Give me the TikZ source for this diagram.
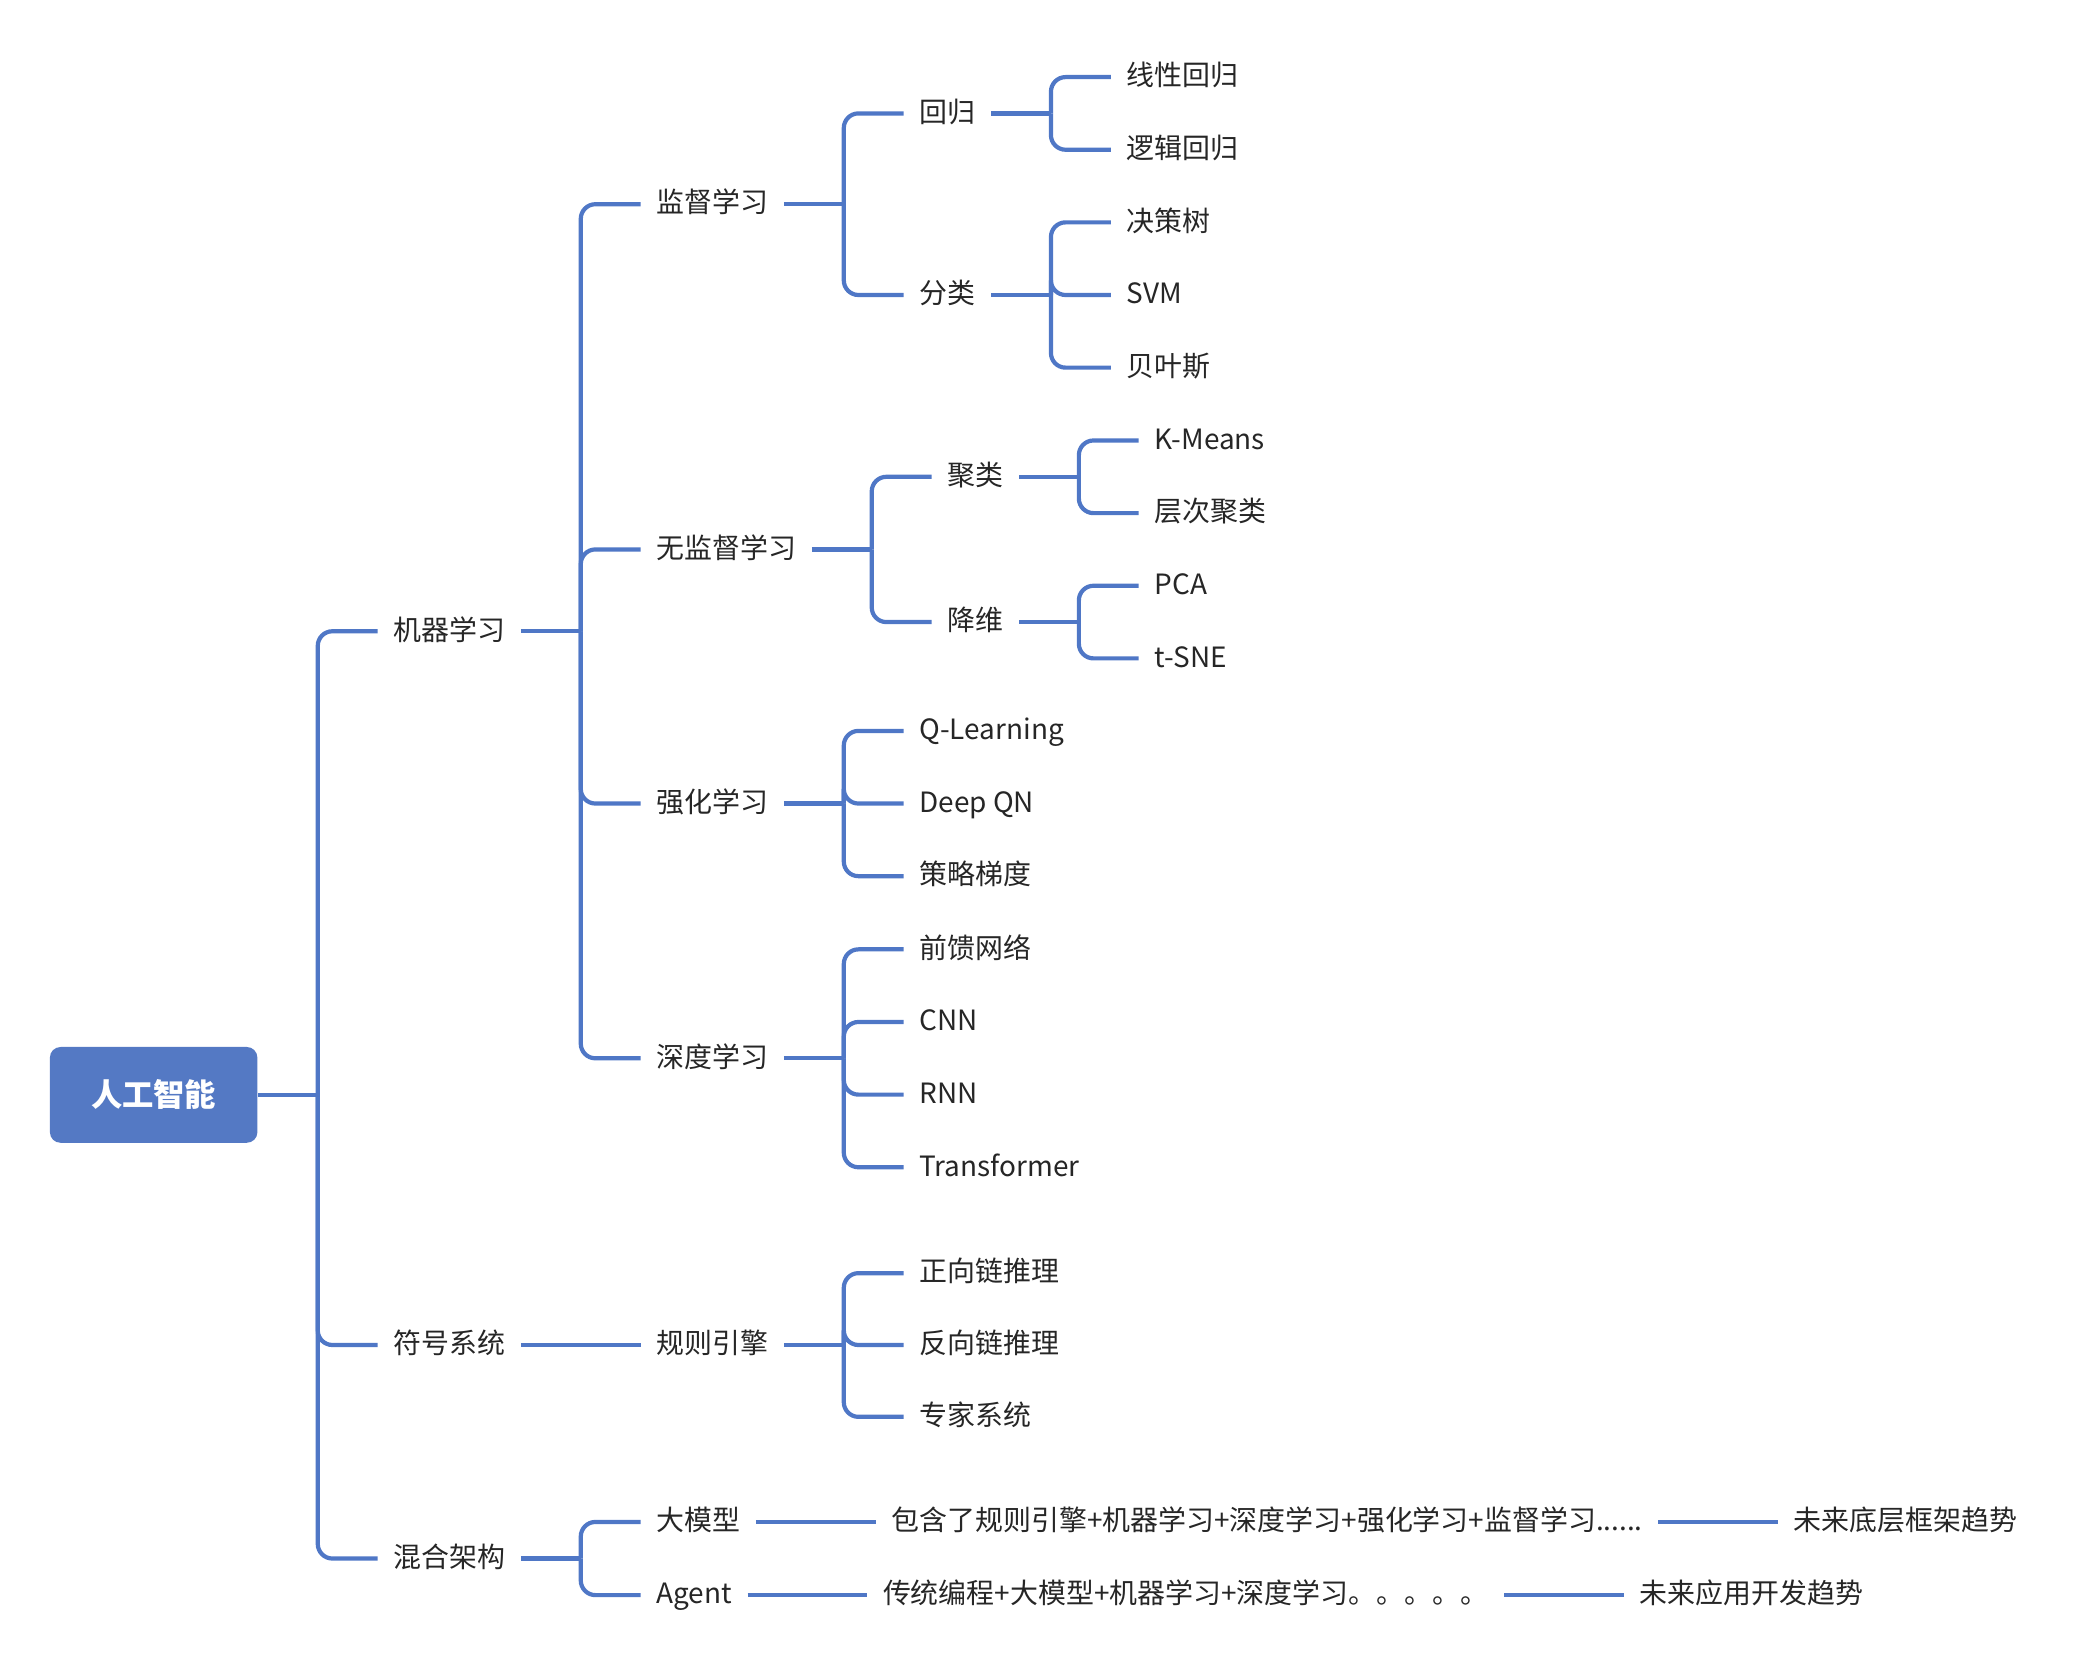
\documentclass[tikz,border=0pt]{standalone}
\usepackage{fontspec}
\setmainfont{Noto Sans CJK SC}
\usepackage{xcolor}
\usepackage{tikz}
\usetikzlibrary{positioning}
\definecolor{mapblue}{HTML}{4F77C6}
\definecolor{rootblue}{HTML}{5479C4}
\definecolor{textgray}{HTML}{262626}
\tikzset{
  rootbox/.style={rectangle,rounded corners=0.16cm,fill=rootblue,minimum width=3.12cm,minimum height=1.44cm,font=\fontsize{13.4}{16}\selectfont\bfseries,text=white},
  topic/.style={rectangle,inner xsep=0.23cm,inner ysep=0pt,text height=0.85em,text depth=0.1em,font=\fontsize{11.95}{14}\selectfont,text=textgray},
  link/.style={draw=mapblue,line width=1.8pt,rounded corners=0.22cm}
}

\begin{document}
\begin{tikzpicture}[node distance=1.8cm]
  \useasboundingbox (-2.31,-8.62) rectangle (29.05,16.46);
  \node[rootbox] (ai) at (0,0) {人工智能};
  \node[topic, right=of ai, yshift=6.97cm] (ml) {机器学习};
  \node[topic, right=of ai, yshift=-3.76cm] (sym) {符号系统};
  \node[topic, right=of ai, yshift=-6.97cm] (mix) {混合架构};

  \node[topic, right=of ml, yshift=6.42cm] (sup) {监督学习};
  \node[topic, right=of ml, yshift=1.23cm] (unsup) {无监督学习};
  \node[topic, right=of ml, yshift=-2.59cm] (rl) {强化学习};
  \node[topic, right=of ml, yshift=-6.42cm] (dl) {深度学习};

  \node[topic, right=of sup, yshift=1.365cm] (reg) {回归};
  \node[topic, right=of sup, yshift=-1.365cm] (cls) {分类};
  \node[topic, right=of reg, yshift=0.546cm] (linr) {线性回归};
  \node[topic, right=of reg, yshift=-0.546cm] (logr) {逻辑回归};
  \node[topic, right=of cls, yshift=1.092cm] (tree) {决策树};
  \node[topic, right=of cls] (svm) {SVM};
  \node[topic, right=of cls, yshift=-1.092cm] (bayes) {贝叶斯};

  \node[topic, right=of unsup, yshift=1.092cm] (clu) {聚类};
  \node[topic, right=of unsup, yshift=-1.092cm] (dim) {降维};
  \node[topic, right=of clu, yshift=0.546cm] (km) {K-Means};
  \node[topic, right=of clu, yshift=-0.546cm] (hc) {层次聚类};
  \node[topic, right=of dim, yshift=0.546cm] (pca) {PCA};
  \node[topic, right=of dim, yshift=-0.546cm] (tsne) {t-SNE};

  \node[topic, right=of rl, yshift=1.092cm] (ql) {Q-Learning};
  \node[topic, right=of rl] (dqn) {Deep QN};
  \node[topic, right=of rl, yshift=-1.092cm] (pg) {策略梯度};

  \node[topic, right=of dl, yshift=1.638cm] (ffn) {前馈网络};
  \node[topic, right=of dl, yshift=0.546cm] (cnn) {CNN};
  \node[topic, right=of dl, yshift=-0.546cm] (rnn) {RNN};
  \node[topic, right=of dl, yshift=-1.638cm] (tf) {Transformer};

  \node[topic, right=of sym] (rule) {规则引擎};
  \node[topic, right=of rule, yshift=1.08cm] (fwd) {正向链推理};
  \node[topic, right=of rule] (bwd) {反向链推理};
  \node[topic, right=of rule, yshift=-1.08cm] (expert) {专家系统};

  \node[topic, right=of mix, yshift=0.55cm] (llm) {大模型};
  \node[topic, right=of mix, yshift=-0.55cm] (agent) {Agent};
  \node[topic, right=of llm] (llmdesc) {包含了规则引擎+机器学习+深度学习+强化学习+监督学习......};
  \node[topic, right=of llmdesc] (llmtrend) {未来底层框架趋势};
  \node[topic, right=of agent] (agdesc) {传统编程+大模型+机器学习+深度学习。。。。。};
  \node[topic, right=of agdesc] (agtrend) {未来应用开发趋势};

  \foreach \p in {ai,ml,sup,reg,cls,unsup,clu,dim,rl,dl,rule,mix}
    \coordinate (\p-j) at ([xshift=0.9cm]\p.east);
  \foreach \p in {ai,ml,sup,reg,cls,unsup,clu,dim,rl,dl,rule,mix}
    \draw[link] (\p.east) -- (\p-j);

  \foreach \c in {ml,sym,mix} \draw[link] (ai-j) |- (\c.west);
  \foreach \c in {sup,unsup,rl,dl} \draw[link] (ml-j) |- (\c.west);
  \foreach \c in {reg,cls} \draw[link] (sup-j) |- (\c.west);
  \foreach \c in {linr,logr} \draw[link] (reg-j) |- (\c.west);
  \foreach \c in {tree,svm,bayes} \draw[link] (cls-j) |- (\c.west);
  \foreach \c in {clu,dim} \draw[link] (unsup-j) |- (\c.west);
  \foreach \c in {km,hc} \draw[link] (clu-j) |- (\c.west);
  \foreach \c in {pca,tsne} \draw[link] (dim-j) |- (\c.west);
  \foreach \c in {ql,dqn,pg} \draw[link] (rl-j) |- (\c.west);
  \foreach \c in {ffn,cnn,rnn,tf} \draw[link] (dl-j) |- (\c.west);
  \foreach \c in {fwd,bwd,expert} \draw[link] (rule-j) |- (\c.west);
  \foreach \c in {llm,agent} \draw[link] (mix-j) |- (\c.west);

  \draw[link] (sym.east) -- (rule.west);
  \draw[link] (llm.east) -- (llmdesc.west);
  \draw[link] (llmdesc.east) -- (llmtrend.west);
  \draw[link] (agent.east) -- (agdesc.west);
  \draw[link] (agdesc.east) -- (agtrend.west);
\end{tikzpicture}
\end{document}
